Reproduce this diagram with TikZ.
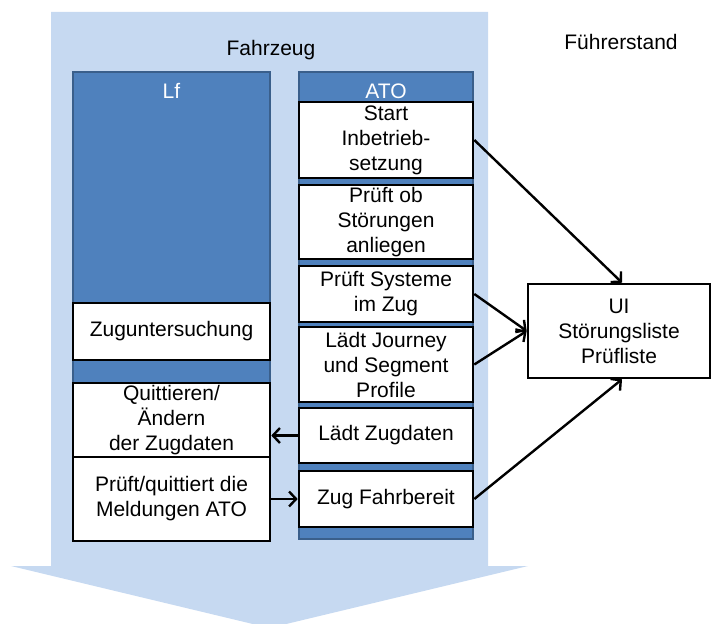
\documentclass[tikz,border=0pt]{standalone}
\usepackage{fontspec}
\setmainfont{Liberation Sans}
\usetikzlibrary{arrows.meta}
\definecolor{vehiclebg}{HTML}{C6D9F1}
\definecolor{lanefill}{HTML}{4F81BD}
\definecolor{laneedge}{HTML}{3A5F8B}
\tikzset{
  lbl/.style={font=\fontsize{21}{25}\selectfont, inner sep=0pt, align=center},
  lane/.style={fill=lanefill, draw=laneedge, line width=1.5pt},
  stepbox/.style={lbl, draw=black, fill=white, line width=2.6pt, rectangle},
  atobox/.style={stepbox, minimum width=174pt},
  lfbox/.style={stepbox, minimum width=197pt},
  arr/.style={line width=2.4pt, -{Straight Barb[length=7pt,width=15pt,line width=2.4pt]}}
}
\begin{document}
\begin{tikzpicture}[x=1pt,y=-1pt]
  \useasboundingbox (0,0) rectangle (711,623);
  \clip (0,0) rectangle (711,623);

  % large vehicle arrow in the background
  \fill[vehiclebg] (51,12) -- (488,12) -- (488,566) -- (528,566) -- (269.5,628)
      -- (11,566) -- (51,566) -- cycle;
  \node[lbl] (fz) at (271,50) {Fahrzeug};
  \node[lbl] (fs) at (621,42) {Führerstand};

  % lanes
  \draw[lane] (73,72) rectangle (270,541);
  \draw[lane] (299,72) rectangle (473,539);
  \node[lbl, text=white] (lf) at (171.5,91) {Lf};
  \node[lbl, text=white] (ato) at (386,91) {ATO};

  % ATO steps
  \node[atobox, minimum height=76pt] (start) at (386,140) {Start\\Inbetrieb-\\setzung};
  \node[atobox, minimum height=74pt] (stoer) at (386,222) {Prüft ob\\Störungen\\anliegen};
  \node[atobox, minimum height=56pt] (sys) at (386,294) {Prüft Systeme\\im Zug};
  \node[atobox, minimum height=75pt] (journey) at (386,364.5) {Lädt Journey\\und Segment\\Profile};
  \node[atobox, minimum height=55pt] (zugd) at (386,435.5) {Lädt Zugdaten};
  \node[atobox, minimum height=56pt] (fahrb) at (386,499) {Zug Fahrbereit};

  % Lf steps
  \node[lfbox, minimum height=57pt] (zugu) at (171.5,331.5) {Zuguntersuchung};
  \node[lfbox, minimum height=74pt] (quitt) at (171.5,420) {Quittieren/\\Ändern\\der Zugdaten};
  \node[lfbox, minimum height=84pt] (pruef) at (171.5,499) {Prüft/quittiert die\\Meldungen ATO};

  % driver's desk
  \node[stepbox, minimum width=182pt, minimum height=94pt] (ui) at (619,331)
      {UI\\Störungsliste\\Prüfliste};

  % connectors
  \draw[arr] (start.east) -- ([xshift=3pt]ui.north);
  \draw[arr] (sys.east) -- (ui.west);
  \draw[arr] (journey.east) -- (ui.west);
  \draw[arr] (fahrb.east) -- ([xshift=3pt]ui.south);
  \draw[arr] (zugd.west) -- (zugd.west -| quitt.east);
  \draw[arr] (pruef.east) -- (fahrb.west);
\end{tikzpicture}
\end{document}
